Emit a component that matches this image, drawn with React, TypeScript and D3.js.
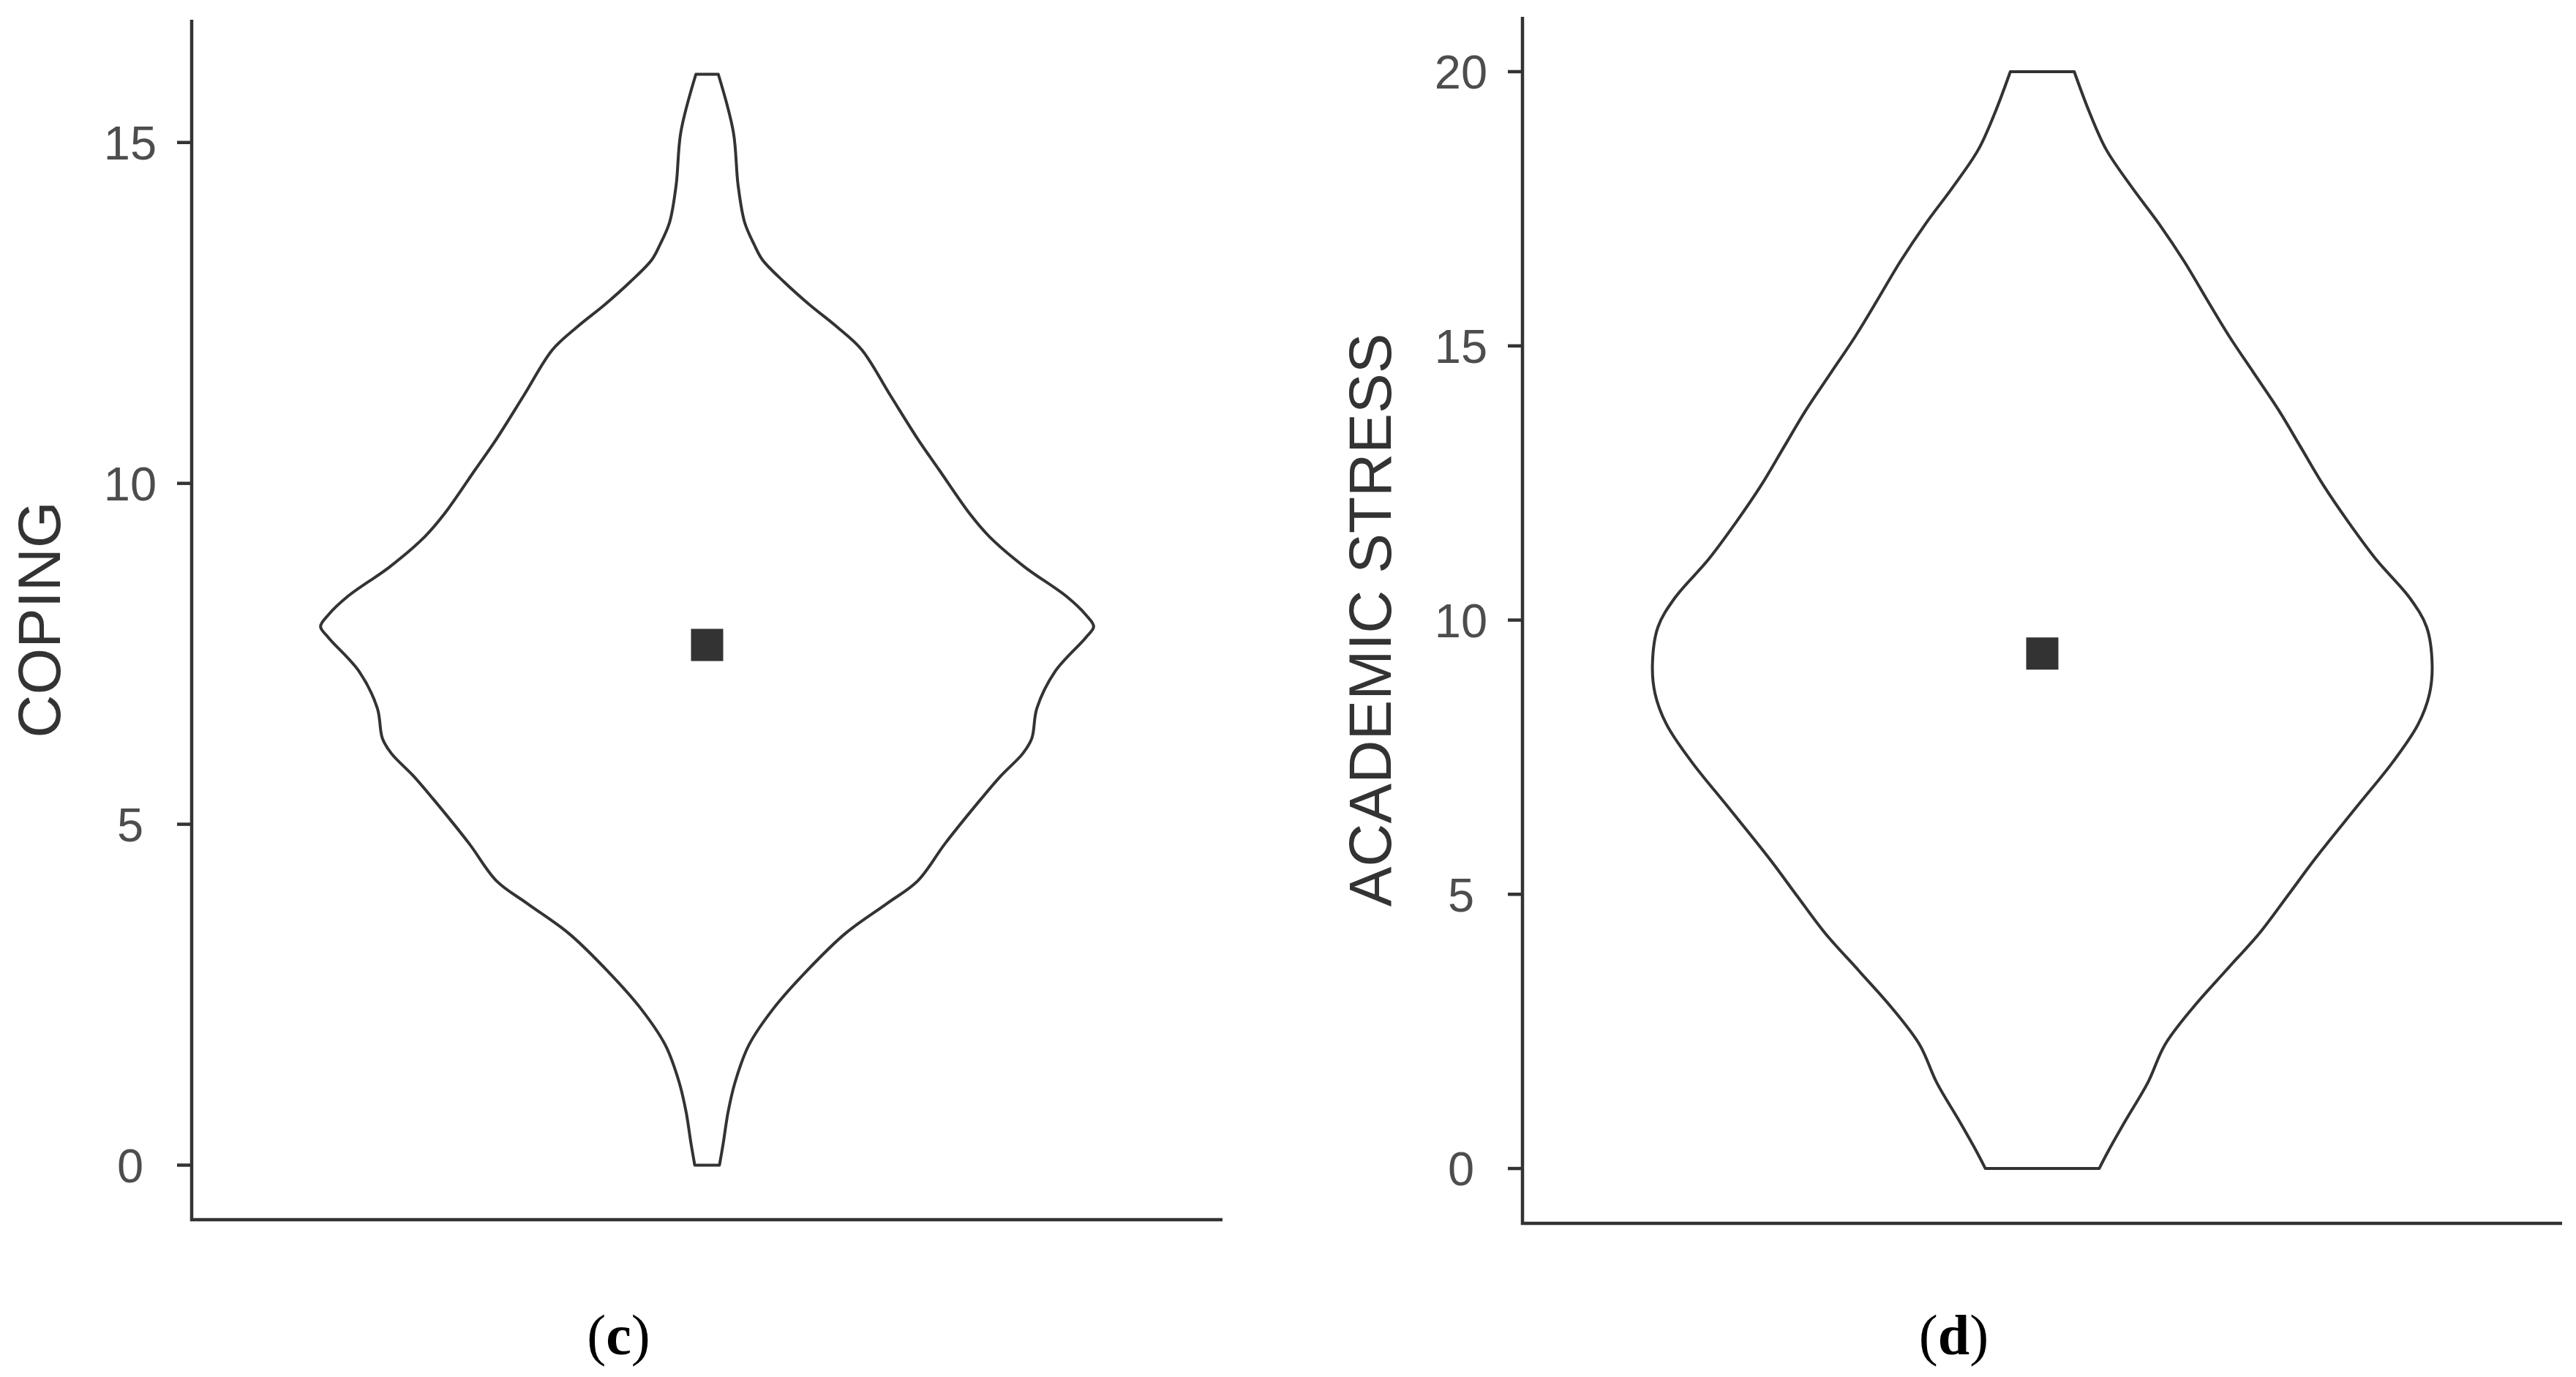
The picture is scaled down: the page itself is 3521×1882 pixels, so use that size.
import * as d3 from 'd3'

// COPING violin: outline (score, relative half-width)
const copingLevels = [
  0, 0.33, 0.77, 1.21, 1.76, 2.3, 2.85, 3.4, 3.84, 4.17, 4.72, 5.38, 5.71, 6.04, 6.26, 6.7,
  7.24, 7.74, 7.9, 8.07, 8.34, 8.78, 9.22, 9.55, 10.2, 10.65, 11.3, 11.96, 12.29, 12.62,
  12.95, 13.28, 13.5, 13.83, 14.38, 15.15, 16,
]
const copingWidths = [
  0.032, 0.042, 0.054, 0.072, 0.108, 0.172, 0.258, 0.358, 0.466, 0.545, 0.616, 0.71, 0.76,
  0.817, 0.84, 0.853, 0.9, 0.98, 1.0, 0.98, 0.93, 0.82, 0.73, 0.68, 0.6, 0.545, 0.473, 0.4,
  0.337, 0.265, 0.2, 0.143, 0.122, 0.097, 0.08, 0.068, 0.029,
]
const copingMean = 7.63
const copingTicks = [0, 5, 10, 15]

// ACADEMIC STRESS violin
const stressLevels = [
  0, 0.34, 0.88, 1.57, 2.25, 2.93, 3.61, 4.29, 4.97, 5.65, 6.6, 7.42, 8.1, 8.65, 9.19, 9.87,
  10.4, 11.1, 11.78, 12.46, 13.14, 13.82, 14.5, 15.18, 15.86, 16.54, 17.22, 17.9, 18.58,
  19.26, 20,
]
const stressWidths = [
  0.146, 0.171, 0.214, 0.271, 0.314, 0.386, 0.471, 0.557, 0.629, 0.7, 0.807, 0.9, 0.964,
  0.993, 1.0, 0.986, 0.943, 0.857, 0.786, 0.721, 0.664, 0.607, 0.543, 0.479, 0.421, 0.364,
  0.3, 0.229, 0.164, 0.121, 0.082,
]
const stressMean = 9.39
const stressTicks = [0, 5, 10, 15, 20]

const INK = '#333333'
const SANS = '"Liberation Sans", Arial, sans-serif'

type PanelProps = {
  left: number
  right: number
  top: number
  bottom: number
  levels: number[]
  widths: number[]
  mean: number
  ticks: number[]
  title: string
  tag: string
}

function ViolinPanel({ left, right, top, bottom, levels, widths, mean, ticks, title, tag }: PanelProps) {
  const [lo, hi] = d3.extent(levels) as [number, number]
  const pad = (hi - lo) * 0.05
  const y = d3.scaleLinear().domain([lo - pad, hi + pad]).range([bottom, top])
  // single discrete category at 1, ggplot-style expansion of 0.6 each side
  const x = d3.scaleLinear().domain([0.4, 1.6]).range([left, right])

  const pts = levels.map((v, i) => [v, widths[i]] as [number, number])
  const area = d3
    .area<[number, number]>()
    .y(d => y(d[0]))
    .x0(d => x(1 - 0.45 * d[1]))
    .x1(d => x(1 + 0.45 * d[1]))
    .curve(d3.curveCatmullRom.alpha(0.5))

  const cx = x(1)
  const midY = (top + bottom) / 2
  const sq = 44

  return (
    <g>
      <path d={area(pts) ?? ''} fill="#ffffff" stroke={INK} strokeWidth={4} strokeLinejoin="round" />
      <rect x={cx - sq / 2} y={y(mean) - sq / 2} width={sq} height={sq} fill={INK} />

      <path d={`M${left},${top}V${bottom}H${right}`} fill="none" stroke={INK} strokeWidth={4.5} />
      {ticks.map(t => (
        <g key={t}>
          <line x1={left - 20} x2={left} y1={y(t)} y2={y(t)} stroke={INK} strokeWidth={4.5} />
          <text
            x={left - 84}
            y={y(t)}
            dy="0.36em"
            textAnchor="middle"
            fontFamily={SANS}
            fontSize={65}
            fill="#4d4d4d"
          >
            {t}
          </text>
        </g>
      ))}
      <text
        transform={`translate(${left - 180},${midY}) rotate(-90)`}
        textAnchor="middle"
        fontFamily={SANS}
        fontSize={82}
        fill={INK}
      >
        {title}
      </text>
      <text
        x={cx - 121}
        y={1851}
        textAnchor="middle"
        fontFamily={'"Liberation Serif", "Times New Roman", serif'}
        fontSize={78}
        fill="#000"
      >
        (<tspan fontWeight="bold">{tag}</tspan>)
      </text>
    </g>
  )
}

export default function App() {
  return (
    <svg
      width={3521}
      height={1882}
      style={{ position: 'absolute', left: 0, top: 0, background: '#fff', display: 'block' }}
    >
      <ViolinPanel
        left={262}
        right={1671}
        top={27}
        bottom={1667}
        levels={copingLevels}
        widths={copingWidths}
        mean={copingMean}
        ticks={copingTicks}
        title="COPING"
        tag="c"
      />
      <ViolinPanel
        left={2081}
        right={3502}
        top={23}
        bottom={1672}
        levels={stressLevels}
        widths={stressWidths}
        mean={stressMean}
        ticks={stressTicks}
        title="ACADEMIC STRESS"
        tag="d"
      />
    </svg>
  )
}
